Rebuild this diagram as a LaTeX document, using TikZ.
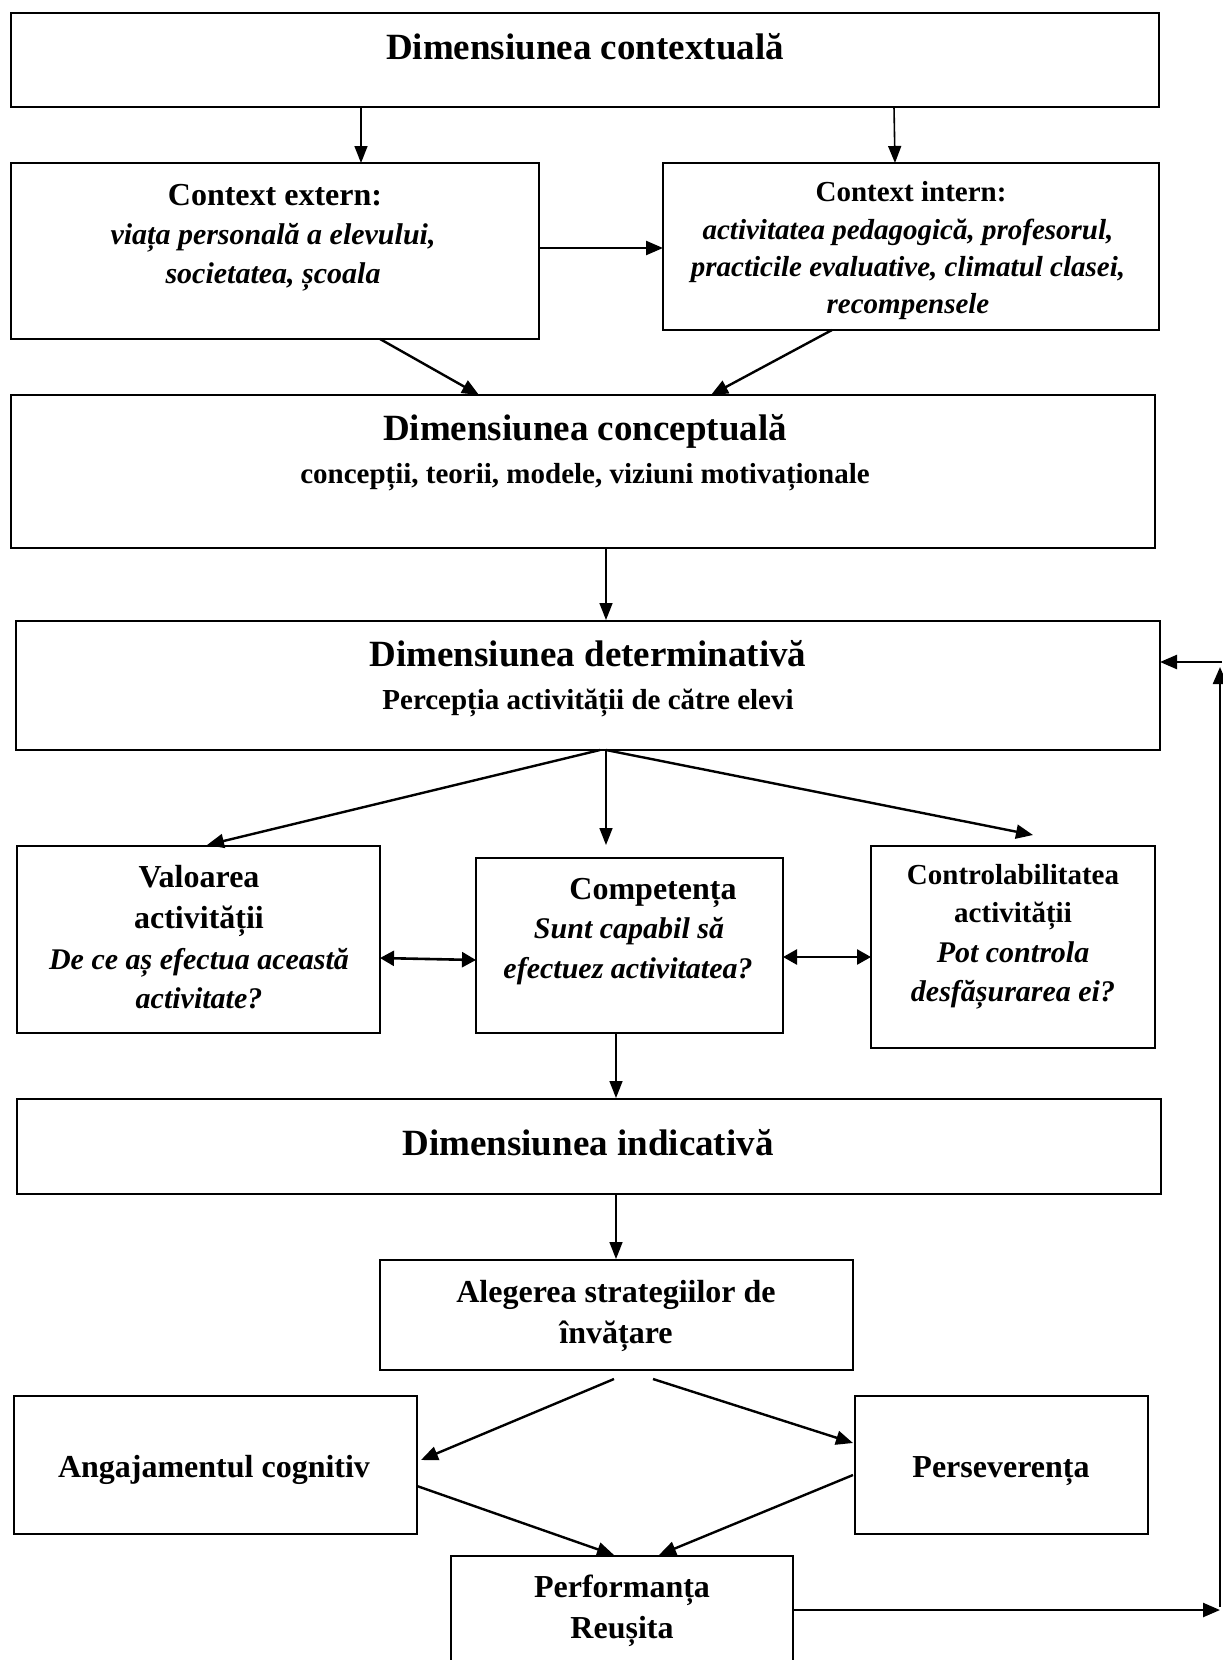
\documentclass[tikz,border=0pt]{standalone}
\usepackage{fontspec}
\setmainfont{Liberation Serif}
\usetikzlibrary{arrows.meta,calc}
\newcommand\mybox[5]{\node[box, minimum width={(#4-#2)*0.5pt}, minimum height={(#5-#3)*0.5pt}] (#1) at ({(#2+#4)/2},{(#3+#5)/2}) {};}
\begin{document}
\begin{tikzpicture}[x=0.5pt,y=-0.5pt,
  box/.style={draw, line width=1pt, inner sep=0pt, outer sep=0pt, fill=none},
  txt/.style={anchor=base, inner sep=0pt},
  big/.style={font=\fontsize{18.5}{22}\selectfont\bfseries},
  med/.style={font=\fontsize{16}{19}\selectfont\bfseries},
  sm/.style={font=\fontsize{14.5}{17}\selectfont\bfseries},
  smi/.style={font=\fontsize{14.5}{17}\selectfont\bfseries\itshape},
  medi/.style={font=\fontsize{15}{18}\selectfont\bfseries\itshape},
  arr/.style={-{Triangle[length=8.5pt,width=6.5pt]}, line width=0.8pt},
  tarr/.style={-{Triangle[length=8.5pt,width=7pt]}, line width=1.2pt},
  darr/.style={{Triangle[length=7pt,width=7.5pt]}-{Triangle[length=7pt,width=7.5pt]}, line width=1.3pt}]
\useasboundingbox (0,0) rectangle (1222,1660);
\fill[white] (0,0) rectangle (1222,1660);
% boxes
\mybox{ctx}{11}{13}{1159}{107}
\mybox{ext}{11}{163}{539}{339}
\mybox{int}{663}{163}{1159}{330}
\mybox{conc}{11}{395}{1155}{548}
\mybox{det}{16}{621}{1160}{750}
\mybox{val}{17}{846}{380}{1033}
\mybox{comp}{476}{858}{783}{1033}
\mybox{ctrl}{871}{846}{1155}{1048}
\mybox{ind}{17}{1099}{1161}{1194}
\mybox{aleg}{380}{1260}{853}{1370}
\mybox{anga}{14}{1396}{417}{1534}
\mybox{pers}{855}{1396}{1148}{1534}
\mybox{perf}{451}{1556}{793}{1666}
% texts
\node[txt,big] (tctx) at (585,59) {Dimensiunea contextuală};
\node[txt,med] (text1) at (275,205) {Context extern:};
\node[txt,medi] (text2) at (273,244) {viața personală a elevului,};
\node[txt,medi] (text3) at (273,283) {societatea, școala};
\node[txt,sm] (tint1) at (911,201) {Context intern:};
\node[txt,smi] (tint2) at (908,239) {activitatea pedagogică, profesorul,};
\node[txt,smi] (tint3) at (908,276) {practicile evaluative, climatul clasei,};
\node[txt,smi] (tint4) at (908,313) {recompensele};
\node[txt,big] (tconc1) at (585,440) {Dimensiunea conceptuală};
\node[txt,sm] (tconc2) at (585,483) {concepții, teorii, modele, viziuni motivaționale};
\node[txt,big] (tdet1) at (588,666) {Dimensiunea determinativă};
\node[txt,sm] (tdet2) at (588,709) {Percepția activității de către elevi};
\node[txt,med] (tval1) at (199,887) {Valoarea};
\node[txt,med] (tval2) at (199,928) {activității};
\node[txt,medi] (tval3) at (199,969) {De ce aș efectua această};
\node[txt,medi] (tval4) at (199,1008) {activitate?};
\node[txt,med] (tcomp1) at (653,899) {Competența};
\node[txt,medi] (tcomp2) at (629,938) {Sunt capabil să};
\node[txt,medi] (tcomp3) at (628,978) {efectuez activitatea?};
\node[txt,sm] (tctrl1) at (1013,884) {Controlabilitatea};
\node[txt,sm] (tctrl2) at (1013,922) {activității};
\node[txt,medi] (tctrl3) at (1013,962) {Pot controla};
\node[txt,medi] (tctrl4) at (1013,1001) {desfășurarea ei?};
\node[txt,big] (tind) at (588,1155) {Dimensiunea indicativă};
\node[txt,med] (tal1) at (616,1302) {Alegerea strategiilor de};
\node[txt,med] (tal2) at (616,1343) {învățare};
\node[txt,med] (tang) at (214,1477) {Angajamentul cognitiv};
\node[txt,med] (tper) at (1001,1477) {Perseverența};
\node[txt,med] (tpf1) at (622,1597) {Performanța};
\node[txt,med] (tpf2) at (622,1638) {Reușita};
% free coordinates of the feedback loop
\coordinate (fbB) at (1220,1610);
\coordinate (fbT) at (1220,667);
\coordinate (fbR) at (1222,662);
% connectors
\draw[arr] ($(ctx.south west)+(350,0)$) -- ($(ext.north west)+(350,0)$);
\draw[arr] ($(ctx.south west)+(883,0)$) -- ($(int.north west)+(232,0)$);
\draw[tarr] ($(ext.north east)+(0,85)$) -- ($(int.north west)+(0,85)$);
\draw[tarr] ($(ext.south west)+(369,0)$) -- ($(conc.north west)+(468,0)$);
\draw[tarr] ($(int.south west)+(169,0)$) -- ($(conc.north west)+(700,0)$);
\draw[arr] ($(conc.south west)+(595,0)$) -- ($(det.north west)+(590,-1)$);
\draw[tarr] ($(det.south west)+(584,0)$) -- ($(val.north west)+(190,-1)$);
\draw[arr] ($(det.south west)+(590,0)$) -- ($(comp.north west)+(130,-13)$);
\draw[tarr] ($(det.south west)+(590,0)$) -- ($(ctrl.north west)+(162,-11)$);
\draw[darr] ($(val.north east)+(0,112)$) -- ($(comp.north west)+(0,102)$);
\draw[darr] ($(comp.north east)+(0,99)$) -- ($(ctrl.north west)+(0,111)$);
\draw[arr] ($(comp.south west)+(140,0)$) -- ($(ind.north west)+(599,-1)$);
\draw[arr] ($(ind.south west)+(599,0)$) -- ($(aleg.north west)+(236,-1)$);
\draw[tarr] ($(aleg.south west)+(234,9)$) -- ($(anga.north east)+(4,64)$);
\draw[tarr] ($(aleg.south west)+(273,9)$) -- ($(pers.north west)+(-2,47)$);
\draw[tarr] ($(anga.north east)+(0,90)$) -- ($(perf.north west)+(163,-1)$);
\draw[tarr] ($(pers.north west)+(-2,79)$) -- ($(perf.north west)+(208,-1)$);
\draw[tarr] ($(perf.north east)+(0,54)$) -- (fbB);
\draw[tarr] ($(fbB)+(0,-3)$) -- (fbT);
\draw[tarr] (fbR) -- (fbR -| det.east);
\end{tikzpicture}
\end{document}
